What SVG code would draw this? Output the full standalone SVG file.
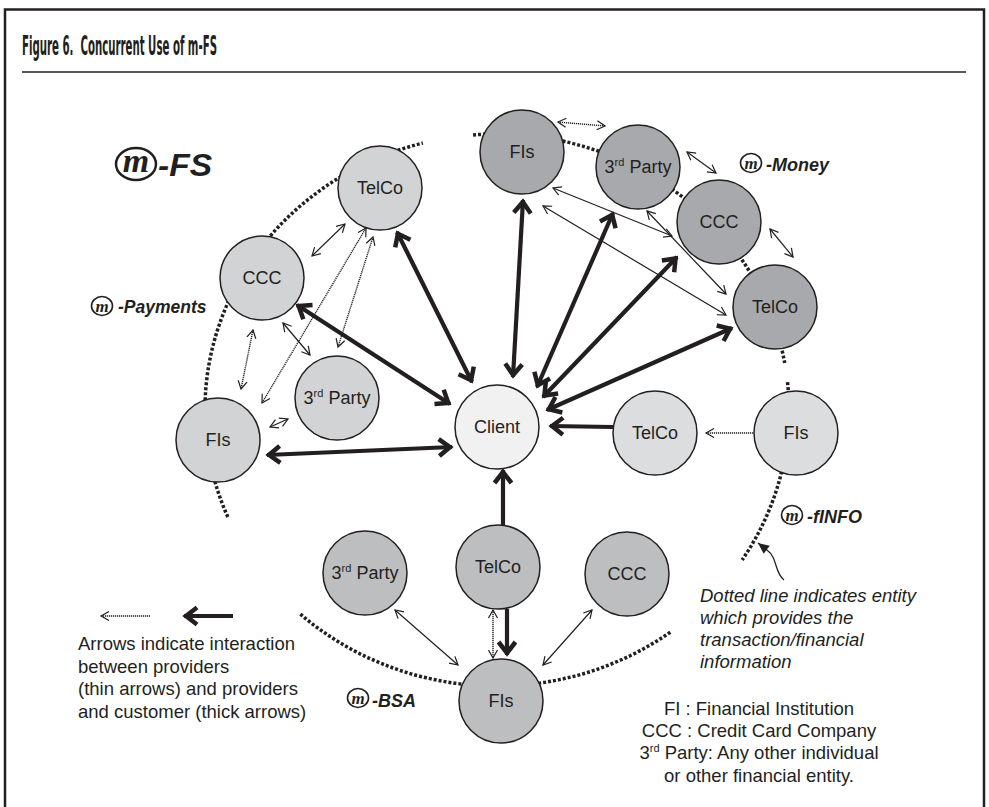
<svg xmlns="http://www.w3.org/2000/svg" width="989" height="807" viewBox="0 0 989 807">
  <style>
    .frame { fill: none; stroke: #231f20; stroke-width: 2.5; }
    .node { stroke: #231f20; stroke-width: 1.5; }
    .pay { fill: #d1d3d4; }
    .client { fill: #f1f1f2; }
    .money { fill: #a7a9ac; }
    .finfo { fill: #dcddde; }
    .bsa { fill: #bcbec0; }
    .lbl { font-family: "Liberation Sans", Arial, sans-serif; font-size: 18px; fill: #231f20; text-anchor: middle; }
    .sup { font-size: 11px; }
    .ring { fill: none; stroke: #231f20; stroke-width: 3.5; stroke-dasharray: 3 2; }
    .thick { fill: none; stroke: #231f20; stroke-width: 4.2; }
    .thin { fill: none; stroke: #231f20; stroke-width: 1.2; }
    .dot { fill: none; stroke: #231f20; stroke-width: 1.4; stroke-dasharray: 1.2 0.8; }
    .brand { font-family: "Liberation Sans", Arial, sans-serif; font-weight: bold; font-style: italic; fill: #231f20; }
    .mark { font-family: "Liberation Serif", "Times New Roman", serif; font-weight: bold; font-style: italic; fill: #231f20; text-anchor: middle; }
    .badge { fill: none; stroke: #231f20; stroke-width: 1.6; }
    .note { font-family: "Liberation Sans", Arial, sans-serif; font-size: 18.5px; fill: #231f20; }
  </style>
  <defs>
    <marker id="thinHead" markerUnits="userSpaceOnUse" viewBox="-12 -8 14 16" refX="0" refY="0" markerWidth="14" markerHeight="16" orient="auto-start-reverse">
      <path d="M-8,-4.5 L0,0 L-8,4.5" fill="none" stroke="#231f20" stroke-width="1.2"/>
    </marker>
    <marker id="thickHead" markerUnits="userSpaceOnUse" viewBox="-18 -12 22 24" refX="0" refY="0" markerWidth="22" markerHeight="24" orient="auto-start-reverse">
      <path d="M-13,-8.5 L-2,0 L-13,8.5" fill="none" stroke="#231f20" stroke-width="4.5"/>
    </marker>
    <marker id="solidHead" markerUnits="userSpaceOnUse" viewBox="-12 -7 14 14" refX="0" refY="0" markerWidth="14" markerHeight="14" orient="auto">
      <path d="M-11,-5 L0,0 L-11,5 Z" fill="#231f20"/>
    </marker>
  </defs>

  <!-- frame and heading -->
  <path class="frame" d="M5,807 L5,9.5 L984,9.5 L984,807"/>
  <text x="22" y="55" font-family="'DejaVu Sans Condensed', 'Liberation Sans Narrow', sans-serif" font-weight="bold" font-size="26" fill="#231f20" textLength="195" lengthAdjust="spacingAndGlyphs">Figure 6.&#160; Concurrent Use of m-FS</text>
  <line x1="22" y1="72" x2="966" y2="72" stroke="#231f20" stroke-width="1.5"/>

  <!-- dotted ring through the providers -->
  <g id="ring">
    <path class="ring" d="M227.8,517 A292,276 0 0 1 422.9,143"/>
    <path class="ring" d="M473.1,134.9 A292,276 0 0 1 784.7,363"/>
    <path class="ring" d="M787.5,382.1 A292,276 0 0 1 742.2,559.9"/>
    <path class="ring" d="M670.3,632.2 A292,276 0 0 1 300.4,614.1"/>
  </g>

  <!-- connectors -->
  <g id="connectors">
    <!-- provider to client (thick) -->
    <line class="thick" x1="397" y1="232" x2="472" y2="382" marker-start="url(#thickHead)" marker-end="url(#thickHead)"/>
    <line class="thick" x1="297" y1="305" x2="450" y2="404" marker-start="url(#thickHead)" marker-end="url(#thickHead)"/>
    <line class="thick" x1="267" y1="455" x2="452" y2="447" marker-start="url(#thickHead)" marker-end="url(#thickHead)"/>
    <line class="thick" x1="523" y1="200" x2="513" y2="377" marker-start="url(#thickHead)" marker-end="url(#thickHead)"/>
    <line class="thick" x1="613" y1="213" x2="537" y2="387" marker-start="url(#thickHead)" marker-end="url(#thickHead)"/>
    <line class="thick" x1="677" y1="257" x2="543" y2="397" marker-start="url(#thickHead)" marker-end="url(#thickHead)"/>
    <line class="thick" x1="732" y1="328" x2="547" y2="410" marker-start="url(#thickHead)" marker-end="url(#thickHead)"/>
    <line class="thick" x1="613" y1="427" x2="550" y2="426" marker-end="url(#thickHead)"/>
    <line class="thick" x1="503" y1="525" x2="503" y2="470" marker-end="url(#thickHead)"/>
    <line class="thick" x1="507" y1="609" x2="507" y2="655" marker-end="url(#thickHead)"/>

    <!-- m-Payments providers -->
    <line class="thin" x1="312" y1="256" x2="345" y2="224" marker-start="url(#thinHead)" marker-end="url(#thinHead)"/>
    <line class="dot" x1="366" y1="228" x2="262" y2="403" marker-start="url(#thinHead)" marker-end="url(#thinHead)"/>
    <line class="dot" x1="373" y1="237" x2="338" y2="347" marker-start="url(#thinHead)" marker-end="url(#thinHead)"/>
    <line class="dot" x1="253" y1="330" x2="241" y2="389" marker-start="url(#thinHead)" marker-end="url(#thinHead)"/>
    <line class="thin" x1="283" y1="323" x2="310" y2="355" marker-start="url(#thinHead)" marker-end="url(#thinHead)"/>
    <line class="thin" x1="270" y1="427" x2="288" y2="419" marker-start="url(#thinHead)" marker-end="url(#thinHead)"/>

    <!-- m-Money providers -->
    <line class="dot" x1="558" y1="122" x2="605" y2="126" marker-start="url(#thinHead)" marker-end="url(#thinHead)"/>
    <line class="thin" x1="687" y1="152" x2="716" y2="173" marker-start="url(#thinHead)" marker-end="url(#thinHead)"/>
    <line class="thin" x1="770" y1="229" x2="793" y2="257" marker-start="url(#thinHead)" marker-end="url(#thinHead)"/>
    <line class="thin" x1="553" y1="188" x2="672" y2="236" marker-start="url(#thinHead)" marker-end="url(#thinHead)"/>
    <line class="thin" x1="543" y1="206" x2="726" y2="315" marker-start="url(#thinHead)" marker-end="url(#thinHead)"/>
    <line class="thin" x1="647" y1="211" x2="726" y2="294" marker-start="url(#thinHead)" marker-end="url(#thinHead)"/>

    <!-- m-fINFO -->
    <line class="dot" x1="753" y1="433" x2="706" y2="433" marker-end="url(#thinHead)"/>

    <!-- m-BSA providers -->
    <line class="dot" x1="493" y1="610" x2="493" y2="658" marker-start="url(#thinHead)" marker-end="url(#thinHead)"/>
    <line class="thin" x1="395" y1="610" x2="458" y2="665" marker-start="url(#thinHead)" marker-end="url(#thinHead)"/>
    <line class="thin" x1="592" y1="610" x2="543" y2="665" marker-start="url(#thinHead)" marker-end="url(#thinHead)"/>

    <!-- pointer to the dotted line -->
    <path d="M784,580 C774,572 778,558 767,550 L758,543" fill="none" stroke="#231f20" stroke-width="1.3" marker-end="url(#solidHead)"/>

    <!-- key arrows -->
    <line class="dot" x1="150" y1="616" x2="101" y2="616" marker-end="url(#thinHead)"/>
    <line class="thick" x1="233" y1="616" x2="184" y2="616" marker-end="url(#thickHead)"/>
  </g>

  <!-- m-Payments -->
  <g id="pay-telco"><circle class="node pay" cx="380" cy="188" r="42"/><text class="lbl" x="380" y="194">TelCo</text></g>
  <g id="pay-ccc"><circle class="node pay" cx="262" cy="278" r="42"/><text class="lbl" x="262" y="284">CCC</text></g>
  <g id="pay-3rd"><circle class="node pay" cx="337" cy="398" r="42"/><text class="lbl" x="337" y="404">3<tspan class="sup" dy="-7">rd</tspan><tspan dy="7"> Party</tspan></text></g>
  <g id="pay-fis"><circle class="node pay" cx="218" cy="440" r="42"/><text class="lbl" x="218" y="446">FIs</text></g>

  <!-- client -->
  <g id="client"><circle class="node client" cx="497" cy="427" r="42"/><text class="lbl" x="497" y="433">Client</text></g>

  <!-- m-Money -->
  <g id="money-fis"><circle class="node money" cx="522" cy="152" r="42"/><text class="lbl" x="522" y="158">FIs</text></g>
  <g id="money-3rd"><circle class="node money" cx="638" cy="167" r="42"/><text class="lbl" x="638" y="173">3<tspan class="sup" dy="-7">rd</tspan><tspan dy="7"> Party</tspan></text></g>
  <g id="money-ccc"><circle class="node money" cx="719" cy="222" r="42"/><text class="lbl" x="719" y="228">CCC</text></g>
  <g id="money-telco"><circle class="node money" cx="775" cy="307" r="42"/><text class="lbl" x="775" y="313">TelCo</text></g>

  <!-- m-fINFO -->
  <g id="finfo-telco"><circle class="node finfo" cx="655" cy="433" r="42"/><text class="lbl" x="655" y="439">TelCo</text></g>
  <g id="finfo-fis"><circle class="node finfo" cx="796" cy="433" r="42"/><text class="lbl" x="796" y="439">FIs</text></g>

  <!-- m-BSA -->
  <g id="bsa-3rd"><circle class="node bsa" cx="365" cy="573" r="42"/><text class="lbl" x="365" y="579">3<tspan class="sup" dy="-7">rd</tspan><tspan dy="7"> Party</tspan></text></g>
  <g id="bsa-telco"><circle class="node bsa" cx="498" cy="567" r="42"/><text class="lbl" x="498" y="573">TelCo</text></g>
  <g id="bsa-ccc"><circle class="node bsa" cx="627" cy="574" r="42"/><text class="lbl" x="627" y="580">CCC</text></g>
  <g id="bsa-fis"><circle class="node bsa" cx="501" cy="701" r="42"/><text class="lbl" x="501" y="707">FIs</text></g>

  <!-- service badges -->
  <g id="badge-fs">
    <ellipse cx="136" cy="164" rx="20" ry="16" fill="none" stroke="#231f20" stroke-width="2.5"/>
    <text class="mark" x="136" y="172" font-size="34">m</text>
    <text class="brand" x="158" y="176" font-size="31" textLength="54" lengthAdjust="spacingAndGlyphs">-FS</text>
  </g>
  <g id="badge-payments">
    <ellipse class="badge" cx="102" cy="306" rx="10.5" ry="9.5"/>
    <text class="mark" x="102" y="312" font-size="17">m</text>
    <text class="brand" x="118" y="313" font-size="17.5">-Payments</text>
  </g>
  <g id="badge-money">
    <ellipse class="badge" cx="751" cy="163" rx="10.5" ry="9.5"/>
    <text class="mark" x="751" y="169" font-size="17">m</text>
    <text class="brand" x="766" y="171" font-size="18">-Money</text>
  </g>
  <g id="badge-finfo">
    <ellipse class="badge" cx="792" cy="515" rx="10.5" ry="9.5"/>
    <text class="mark" x="792" y="521" font-size="17">m</text>
    <text class="brand" x="807" y="523" font-size="18">-fINFO</text>
  </g>
  <g id="badge-bsa">
    <ellipse class="badge" cx="358" cy="698" rx="10.5" ry="9.5"/>
    <text class="mark" x="358" y="704" font-size="17">m</text>
    <text class="brand" x="372" y="707" font-size="18">-BSA</text>
  </g>

  <!-- notes -->
  <text class="note" font-style="italic" x="700" y="602">Dotted line indicates entity</text>
  <text class="note" font-style="italic" x="700" y="624">which provides the</text>
  <text class="note" font-style="italic" x="700" y="646">transaction/financial</text>
  <text class="note" font-style="italic" x="700" y="668">information</text>

  <text class="note" x="78" y="650" font-size="19">Arrows indicate interaction</text>
  <text class="note" x="78" y="673" font-size="19">between providers</text>
  <text class="note" x="78" y="695" font-size="19">(thin arrows) and providers</text>
  <text class="note" x="78" y="718" font-size="19">and customer (thick arrows)</text>

  <g text-anchor="middle">
    <text class="note" x="759" y="715">FI : Financial Institution</text>
    <text class="note" x="759" y="737">CCC : Credit Card Company</text>
    <text class="note" x="759" y="759">3<tspan font-size="11" dy="-7">rd</tspan><tspan dy="7"> Party: Any other individual</tspan></text>
    <text class="note" x="759" y="782">or other financial entity.</text>
  </g>
</svg>
